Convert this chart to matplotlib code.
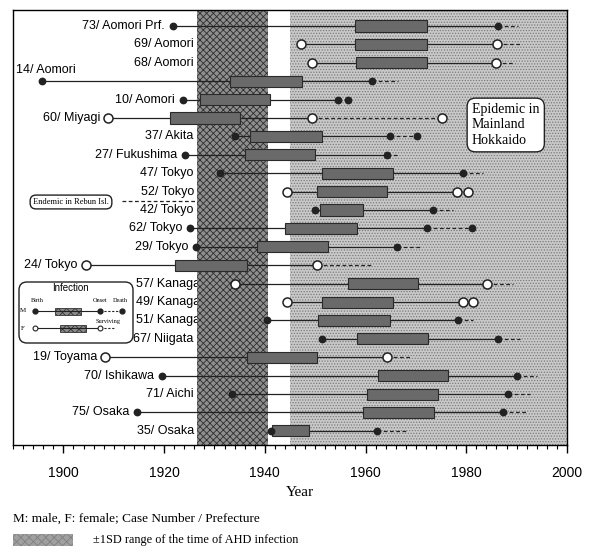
import matplotlib
matplotlib.use("Agg")
import matplotlib.pyplot as plt
from matplotlib.patches import Rectangle, FancyBboxPatch
from matplotlib.lines import Line2D
import numpy as np

# one row per case, top to bottom
cases = ["73/ Aomori Prf.", "69/ Aomori", "68/ Aomori", "14/ Aomori", "10/ Aomori",
         "60/ Miyagi", "37/ Akita", "27/ Fukushima", "47/ Tokyo", "52/ Tokyo",
         "42/ Tokyo", "62/ Tokyo", "29/ Tokyo", "24/ Tokyo", "57/ Kanagawa",
         "49/ Kanagawa", "51/ Kanagawa", "67/ Niigata", "19/ Toyama", "70/ Ishikawa",
         "71/ Aichi", "75/ Osaka", "35/ Osaka"]
sex = ["M", "F", "F", "M", "M", "F", "M", "M", "M", "F", "M", "M", "M", "F", "F",
       "F", "M", "M", "F", "M", "M", "M", "M"]
birth = [1921.8, 1947.2, 1949.4, 1895.8, 1923.8, 1908.9, 1934.0, 1924.2, 1931.2, 1944.4,
         1950.0, 1925.2, 1926.4, 1904.4, 1934.1, 1944.4, 1940.5, 1951.4, 1908.3, 1919.6,
         1933.5, 1914.7, 1941.3]
sd_low = [1958.0, 1958.0, 1958.1, 1933.1, 1927.2, 1921.2, 1937.1, 1936.1, 1951.4, 1950.4,
          1951.0, 1944.0, 1938.5, 1922.2, 1956.5, 1951.4, 1950.6, 1958.3, 1936.5, 1962.5,
          1960.3, 1959.5, 1941.5]
sd_high = [1972.2, 1972.2, 1972.2, 1947.4, 1941.1, 1935.1, 1951.4, 1950.0, 1965.5, 1964.3,
           1959.5, 1958.3, 1952.6, 1936.5, 1970.4, 1965.5, 1964.9, 1972.4, 1950.4, 1976.4,
           1974.4, 1973.6, 1948.8]
onset = [1986.3, 1986.1, 1985.9, 1961.3, 1954.6, 1949.4, 1964.9, 1964.3, 1979.4, 1978.2,
         1973.4, 1972.2, 1966.3, 1950.4, 1984.1, 1979.4, 1978.4, 1986.3, 1964.3, 1990.1,
         1988.3, 1987.3, 1962.3]
# nan = surviving
death = [np.nan, np.nan, np.nan, np.nan, 1956.5, 1975.2, 1970.2, np.nan, np.nan, 1980.4,
         np.nan, 1981.2, np.nan, np.nan, np.nan, 1981.3, np.nan, np.nan, np.nan, np.nan,
         np.nan, np.nan, np.nan]
# end of the dashed follow-up line for surviving cases
follow_end = [1990.3, 1990.7, 1989.7, 1966.5, np.nan, np.nan, np.nan, 1966.3, 1983.3, np.nan,
              1977.4, np.nan, 1970.8, 1961.3, 1989.3, np.nan, 1981.3, 1990.7, 1968.8, 1994.0,
              1992.7, 1992.3, 1968.4]

band_dark = (1926.6, 1940.7)
band_epidemic = (1945.0, 2000.0)
year_ticks = [1900, 1920, 1940, 1960, 1980, 2000]

plt.rcParams["font.family"] = ["Liberation Sans", "DejaVu Sans"]
plt.rcParams["hatch.linewidth"] = 0.6
serif = ["Liberation Serif", "DejaVu Serif"]

W, H = 594, 554
fig = plt.figure(figsize=(W / 100, H / 100), dpi=100)
ax = fig.add_axes([13 / W, 1 - 445 / H, (567 - 13) / W, (445 - 10) / H])

n = len(cases)
ax.set_xlim(1890, 2000)
ax.set_ylim(22.77, -0.87)

ax.add_patch(Rectangle((band_epidemic[0], -1), band_epidemic[1] - band_epidemic[0], n + 2,
                       facecolor="#c9c9c9", edgecolor="#7a7a7a", hatch="......",
                       linewidth=0, zorder=0.5))
ax.add_patch(Rectangle((band_dark[0], -1), band_dark[1] - band_dark[0], n + 2,
                       facecolor="#8e8e8e", edgecolor="#2f2f2f", hatch="xxxxx",
                       linewidth=0, zorder=1))

label_anchor = {"57/ Kanagawa": 1930.3, "49/ Kanagawa": 1930.3, "51/ Kanagawa": 1930.3}

for i in range(n):
    filled = sex[i] == "M"
    fc = "#222222" if filled else "white"
    ms = 4.5 if filled else 6.5
    ax.plot([birth[i], onset[i]], [i, i], color="#222222", lw=0.9, zorder=2)
    end = death[i] if not np.isnan(death[i]) else follow_end[i]
    ax.plot([onset[i], end], [i, i], color="#222222", lw=0.9,
            dashes=(3, 2), zorder=2)
    ax.add_patch(Rectangle((sd_low[i], i - 0.3), sd_high[i] - sd_low[i], 0.6,
                           facecolor="#6a6a6a", edgecolor="#2a2a2a", lw=0.8, zorder=3))
    pts = [birth[i], onset[i]]
    if not np.isnan(death[i]):
        pts.append(death[i])
    ax.plot(pts, [i] * len(pts), linestyle="none", marker="o", ms=ms, mfc=fc,
            mec="#222222", mew=1.1, zorder=4)

    if cases[i] == "14/ Aomori":
        ax.text(1890.5, i - 0.6, cases[i], ha="left", va="center", fontsize=9, zorder=0.8)
    else:
        xa = label_anchor.get(cases[i], min(birth[i] - 1.6, 1925.9))
        ax.text(xa, i, cases[i], ha="right", va="center", fontsize=9, zorder=0.8)

ax.set_yticks([])
ax.set_xticks(year_ticks)
ax.set_xticks(np.arange(1890, 2001, 2), minor=True)
ax.tick_params(axis="x", which="major", direction="out", length=6, width=1, pad=9,
               labelsize=10)
ax.tick_params(axis="x", which="minor", direction="out", length=3, width=0.8)
for s in ax.spines.values():
    s.set_linewidth(1)

# annotations
fig.text(472 / W, 1 - 125 / H, "Epidemic in\nMainland\nHokkaido", ha="left", va="center",
         family=serif, fontsize=10, linespacing=1.25,
         bbox=dict(boxstyle="round,pad=0.35,rounding_size=0.6", fc="white", ec="#222222", lw=1))
fig.text(71 / W, 1 - 202 / H, "Endemic in Rebun Isl.", ha="center", va="center",
         family=serif, fontsize=6, zorder=5,
         bbox=dict(boxstyle="round,pad=0.35,rounding_size=0.7", fc="white", ec="#222222", lw=1))
fig.add_artist(Line2D([122 / W, 197 / W], [1 - 201 / H, 1 - 201 / H], color="#222222",
                      lw=0.9, dashes=(3, 2)))

# legend box
lax = fig.add_axes([18 / W, 1 - 344 / H, 116 / W, 63 / H])
lax.set_xlim(0, 116)
lax.set_ylim(63, 0)
lax.axis("off")
lax.add_patch(FancyBboxPatch((1, 1), 114, 61, boxstyle="round,pad=0,rounding_size=8",
                             fc="white", ec="#222222", lw=1))
lax.text(52, 7, "Infection", ha="center", va="center", fontsize=7)
lax.text(19, 20, "Birth", ha="center", va="center", fontsize=4.5, family=serif)
lax.text(82, 20, "Onset", ha="center", va="center", fontsize=4.5, family=serif)
lax.text(102, 20, "Death", ha="center", va="center", fontsize=4.5, family=serif)
lax.text(90, 40, "Surviving", ha="center", va="center", fontsize=4.5, family=serif)
lax.text(5, 30, "M", ha="center", va="center", fontsize=5, family=serif)
lax.text(5, 47, "F", ha="center", va="center", fontsize=5, family=serif)
lax.plot([17, 82], [30, 30], color="#222222", lw=0.8)
lax.plot([82, 104], [30, 30], color="#222222", lw=0.8, dashes=(2, 1.5))
lax.add_patch(Rectangle((37, 26.5), 26, 7, fc="#8a8a8a", ec="#333333", lw=0.6,
                        hatch="xxxx"))
lax.plot([17, 82, 104], [30, 30, 30], "o", ms=3.5, mfc="#222222", mec="#222222")
lax.plot([17, 82], [47, 47], color="#222222", lw=0.8)
lax.plot([82, 96], [47, 47], color="#222222", lw=0.8, dashes=(2, 1.5))
lax.add_patch(Rectangle((42, 43.5), 26, 7, fc="#8a8a8a", ec="#333333", lw=0.6,
                        hatch="xxxx"))
lax.plot([17, 82], [47, 47], "o", ms=3.5, mfc="white", mec="#222222", mew=0.8)

fig.text(300 / W, 1 - 493 / H, "Year", ha="center", va="center", family=serif, fontsize=11)
fig.text(13 / W, 1 - 519 / H, "M: male, F: female; Case Number / Prefecture",
         ha="left", va="center", family=serif, fontsize=9.5)
fig.add_artist(Rectangle((13 / W, 1 - 546 / H), 60 / W, 12 / H, transform=fig.transFigure,
                         fc="#a0a0a0", ec="#808080", lw=0, hatch="xxxx"))
fig.text(93 / W, 1 - 540 / H, "\u00b11SD range of the time of AHD infection",
         ha="left", va="center", family=serif, fontsize=8.8)

fig.savefig("out.png", dpi=100)
